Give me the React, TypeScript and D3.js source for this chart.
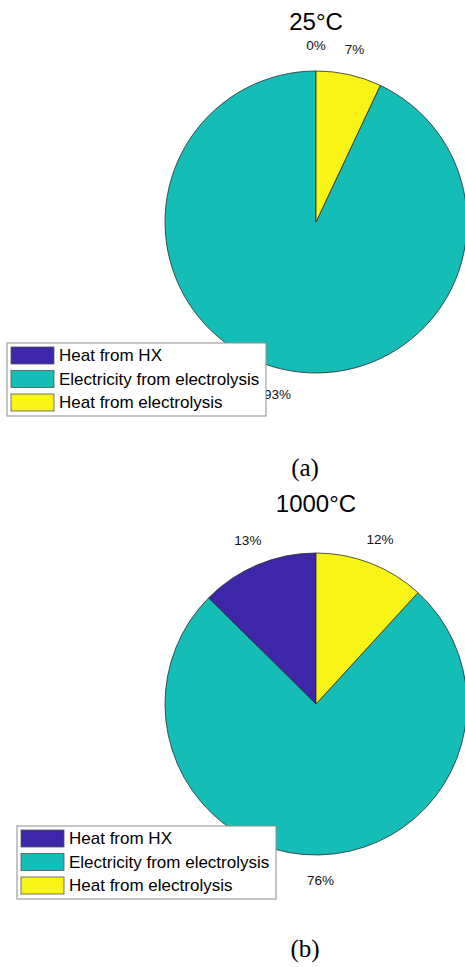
import React, { useEffect, useRef } from "react";
import * as d3 from "d3";

// slice names, in the order the pie draws them (counter-clockwise from the top)
const categories = ["Heat from HX", "Electricity from electrolysis", "Heat from electrolysis"];
const colors = ["#3E26A8", "#14BDB6", "#F8F516"];

// energy shares at the two temperatures
const values25 = [0.0, 0.93, 0.07];
const values1000 = [0.126, 0.756, 0.118];

const titles = ["25\u00B0C", "1000\u00B0C"];
const captions = ["(a)", "(b)"];

const W = 465;
const H = 967;

// draws one pie + its legend + caption into the group g
const drawPie = (g, values, title, caption, cy, legendX, legendY, captionY) => {
  const cx = 316;
  const r = 151;

  g.append("text")
    .attr("x", cx)
    .attr("y", cy - r - 41)
    .attr("text-anchor", "middle")
    .attr("font-family", "Liberation Sans, Arial, sans-serif")
    .attr("font-size", 24)
    .attr("fill", "#000")
    .text(title);

  // MATLAB style: start at the top and go counter-clockwise
  const pie = d3
    .pie()
    .sort(null)
    .startAngle(0)
    .endAngle(-2 * Math.PI);
  const arcs = pie(values);
  const arc = d3.arc().innerRadius(0).outerRadius(r);

  const pg = g.append("g").attr("transform", "translate(" + cx + "," + cy + ")");
  pg.selectAll("path")
    .data(arcs)
    .enter()
    .append("path")
    .attr("d", arc)
    .attr("fill", (d, i) => colors[i])
    .attr("stroke", "#2a2a2a")
    .attr("stroke-width", 0.8);

  // percent labels outside the rim
  const labelArc = d3.arc().innerRadius(r * 1.17).outerRadius(r * 1.17);
  pg.selectAll("text.pct")
    .data(arcs)
    .enter()
    .append("text")
    .attr("class", "pct")
    .attr("transform", d => "translate(" + labelArc.centroid(d) + ")")
    .attr("text-anchor", "middle")
    .attr("dominant-baseline", "central")
    .attr("font-family", "Liberation Sans, Arial, sans-serif")
    .attr("font-size", 13.5)
    .attr("fill", "#111")
    .text(d => Math.round(d.data * 100) + "%");

  // legend box
  const rowH = 23.5;
  const lg = g.append("g").attr("transform", "translate(" + legendX + "," + legendY + ")");
  lg.append("rect")
    .attr("x", 0)
    .attr("y", 0)
    .attr("width", 259)
    .attr("height", 73)
    .attr("fill", "#fff")
    .attr("stroke", "#8c8c8c")
    .attr("stroke-width", 1);
  categories.forEach((c, i) => {
    lg.append("rect")
      .attr("x", 4)
      .attr("y", 4 + i * rowH)
      .attr("width", 43)
      .attr("height", 17)
      .attr("fill", colors[i])
      .attr("stroke", "#555")
      .attr("stroke-width", 0.8);
    lg.append("text")
      .attr("x", 52)
      .attr("y", 12.5 + i * rowH)
      .attr("dominant-baseline", "central")
      .attr("font-family", "Liberation Sans, Arial, sans-serif")
      .attr("font-size", 17)
      .attr("fill", "#000")
      .text(c);
  });

  g.append("text")
    .attr("x", 305)
    .attr("y", captionY)
    .attr("text-anchor", "middle")
    .attr("font-family", "Liberation Serif, Times New Roman, serif")
    .attr("font-size", 25)
    .attr("fill", "#000")
    .text(caption);
};

export default function App() {
  const ref = useRef(null);

  useEffect(() => {
    const svg = d3.select(ref.current);
    svg.selectAll("*").remove();
    svg.append("rect").attr("width", W).attr("height", H).attr("fill", "#fff");

    drawPie(svg.append("g"), values25, titles[0], captions[0], 222, 7, 343, 476);
    drawPie(svg.append("g"), values1000, titles[1], captions[1], 704, 17, 826, 957);
  }, []);

  return (
    <svg
      ref={ref}
      width={W}
      height={H}
      style={{ position: "absolute", left: 0, top: 0, display: "block" }}
    />
  );
}
